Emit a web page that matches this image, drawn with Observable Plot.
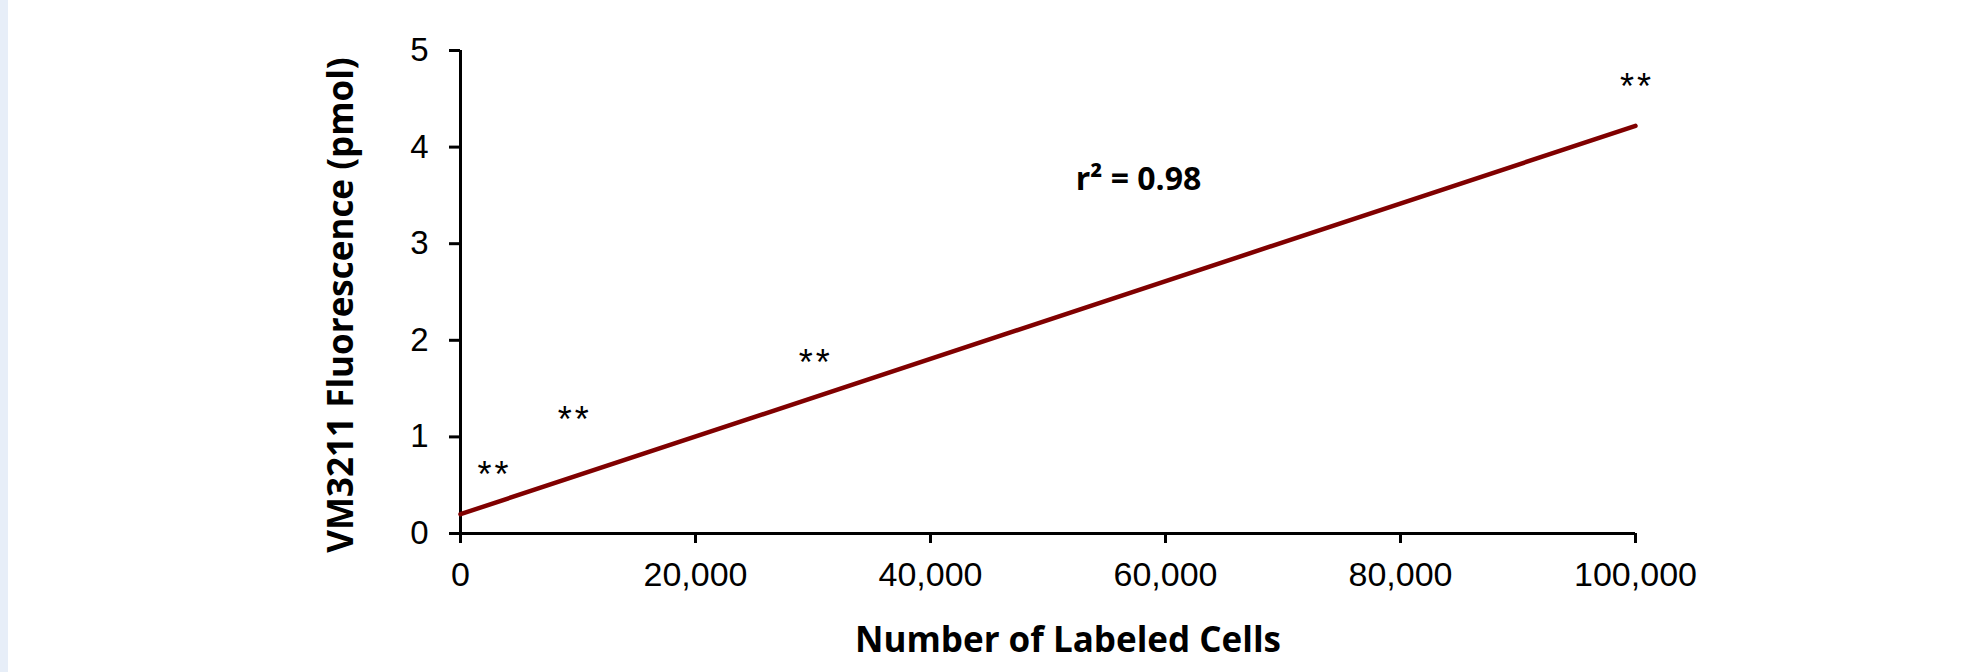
<!DOCTYPE html>
<html>
<head>
<meta charset="utf-8">
<script src="https://cdn.jsdelivr.net/npm/d3@7"></script>
<script src="https://cdn.jsdelivr.net/npm/@observablehq/plot@0.6"></script>
<style>
  html, body { margin: 0; padding: 0; background: #ffffff; }
  #strip { position: absolute; left: 0; top: 0; width: 8px; height: 672px; background: #e7eef8; }
  #chart { position: absolute; left: 0; top: 0; }
</style>
</head>
<body>
<div id="strip"></div>
<div id="chart"></div>
<script>
// Fitted regression line (number of labeled cells vs fluorescence, pmol)
const fitCells = [0, 100000];
const fitPmol = [0.2, 4.22];

// Significance markers "**"
const starCells = [2770, 9600, 30100, 100000];
const starPmol = [0.68, 1.25, 1.84, 4.70];
const starText = ["*\u200A*", "*\u200A*", "*\u200A*", "*\u200A*"];

// Axis ticks
const xTicks = [0, 20000, 40000, 60000, 80000, 100000];
const yTicks = [0, 1, 2, 3, 4, 5];

const xTitle = "Number of Labeled Cells";
const yTitle = "VM3211 Fluorescence (pmol)";
const r2Label = "r² = 0.98";
const r2Cells = 57700;
const r2Pmol = 3.66;

const fitData = fitCells.map((c, i) => ({cells: c, pmol: fitPmol[i]}));
const starData = starCells.map((c, i) => ({cells: c, pmol: starPmol[i], label: starText[i]}));

const titleFont = "'Open Sans', Carlito, Calibri, sans-serif";

const chart = Plot.plot({
  width: 1970,
  height: 672,
  marginLeft: 460,
  marginRight: 335,
  marginTop: 50,
  marginBottom: 139,
  style: {fontFamily: "'Liberation Sans', Arial, sans-serif", background: "transparent", color: "#000"},
  x: {domain: [0, 100000]},
  y: {domain: [0, 5]},
  marks: [
    Plot.axisX({ticks: xTicks, tickFormat: d3.format(","), tickSize: 10, tickPadding: 18, fontSize: 34, strokeWidth: 3, label: null}),
    Plot.axisY({ticks: yTicks, tickFormat: d3.format("d"), tickSize: 11, tickPadding: 21, fontSize: 33, strokeWidth: 3, label: null}),
    Plot.ruleY([0], {strokeWidth: 3, stroke: "#000"}),
    Plot.ruleX([0], {strokeWidth: 3, stroke: "#000"}),
    Plot.line(fitData, {x: "cells", y: "pmol", stroke: "#800000", strokeWidth: 4.5}),
    Plot.text(starData, {x: "cells", y: "pmol", text: "label", fontSize: 36, dy: 8, fill: "#000", fontFamily: "'Liberation Sans', Arial, sans-serif"}),
    Plot.text([r2Label], {x: r2Cells, y: r2Pmol, text: d => d, fontSize: 32, fontWeight: "bold", fontFamily: titleFont, fill: "#000"}),
    Plot.text([xTitle], {frameAnchor: "bottom", text: d => d, fontSize: 35, fontWeight: "bold", fontFamily: titleFont, textAnchor: "middle", dx: 20, dy: 118, fill: "#000"}),
    Plot.text([yTitle], {frameAnchor: "left", text: d => d, fontSize: 35, fontWeight: "bold", fontFamily: titleFont, textAnchor: "middle", rotate: -90, dx: -119, dy: 13, fill: "#000"})
  ]
});
document.getElementById("chart").appendChild(chart);
</script>
</body>
</html>
